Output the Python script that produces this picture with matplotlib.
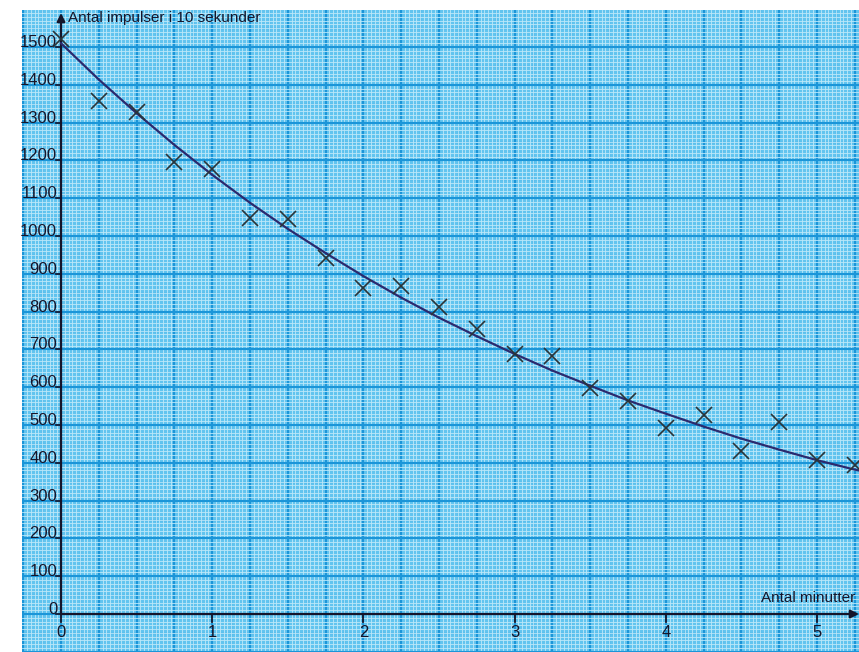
import matplotlib
matplotlib.use("Agg")
import matplotlib.pyplot as plt
import numpy as np
from matplotlib.ticker import MultipleLocator

# Data
minutes = [0, 0.25, 0.5, 0.75, 1.0, 1.25, 1.5, 1.75, 2.0, 2.25, 2.5, 2.75,
           3.0, 3.25, 3.5, 3.75, 4.0, 4.25, 4.5, 4.75, 5.0, 5.25]
counts = [1520, 1357, 1327, 1195, 1177, 1048, 1046, 942, 862, 868, 812, 755,
          688, 683, 598, 563, 492, 527, 431, 508, 407, 394]
curve_t = [0, 0.25, 0.5, 0.75, 1.0, 1.25, 1.5, 1.75, 2.0, 2.25, 2.5, 2.75,
           3.0, 3.25, 3.5, 3.75, 4.0, 4.25, 4.5, 4.75, 5.0, 5.25, 5.3]
curve_n = [1510, 1414, 1325, 1241, 1162, 1088, 1019, 955, 894, 837, 784, 735,
           688, 644, 604, 565, 530, 496, 464, 435, 407, 382, 378]
x_tick_labels = ["0", "1", "2", "3", "4", "5"]
y_tick_values = list(range(0, 1501, 100))
x_label = "Antal minutter"
y_label = "Antal impulser i 10 sekunder"

fam = ["DejaVu Sans Condensed", "Liberation Sans Narrow", "Liberation Sans",
       "DejaVu Sans"]

fig = plt.figure(figsize=(8.59, 6.52), dpi=100)
ax = fig.add_axes([22 / 859, 0, 837 / 859, 642 / 652])
ax.set_xlim(-0.258, 5.278)
ax.set_ylim(-100.5, 1598)
ax.set_facecolor("#62c4ef")
for s in ax.spines.values():
    s.set_visible(False)

ax.xaxis.set_major_locator(MultipleLocator(0.25))
ax.xaxis.set_minor_locator(MultipleLocator(0.025))
ax.yaxis.set_major_locator(MultipleLocator(100))
ax.yaxis.set_minor_locator(MultipleLocator(10))
ax.tick_params(which="both", length=0, labelbottom=False, labelleft=False)
ax.grid(which="minor", color="#bde8f9", lw=0.6, zorder=0)
ax.grid(which="major", color="#1b95d8", lw=1.5, zorder=1)
ax.set_axisbelow(True)
for v in np.arange(-0.125, 5.3, 0.25):
    ax.axvline(v, color="#3aaae2", lw=0.9, zorder=0.5)
for v in np.arange(-50, 1600, 100):
    ax.axhline(v, color="#3aaae2", lw=0.9, zorder=0.5)

# axes with arrows
ax.annotate("", xy=(5.278, 0), xytext=(0, 0),
            arrowprops=dict(arrowstyle="-|>", color="#15152a", lw=1.6,
                            mutation_scale=12, shrinkA=0, shrinkB=0), zorder=4)
ax.annotate("", xy=(0, 1590), xytext=(0, 0),
            arrowprops=dict(arrowstyle="-|>", color="#15152a", lw=1.6,
                            mutation_scale=12, shrinkA=0, shrinkB=0), zorder=4)

# ticks and labels
for i, lab in enumerate(x_tick_labels):
    xv = float(lab)
    ax.plot([xv, xv], [0, -22], color="#15152a", lw=1.3, zorder=4)
    ax.text(xv, -48, lab, ha="center", va="center", fontsize=12,
            family=fam, color="#15152a", zorder=5)
for yv in y_tick_values:
    ax.plot([-0.03, 0], [yv, yv], color="#15152a", lw=1.2, zorder=4)
    ax.text(-0.025, yv + 12, str(yv), ha="right", va="center", fontsize=12,
            family=fam, color="#15152a", zorder=5)
ax.text(0.045, 1578, y_label, ha="left", va="center", fontsize=11,
        family=fam, color="#15152a", zorder=5)
ax.text(5.25, 23, x_label, ha="right", va="bottom", fontsize=11,
        family=fam, color="#15152a", zorder=5)

ax.plot(curve_t, curve_n, color="#2b2a6e", lw=1.6, zorder=6, clip_on=True)
ax.plot(minutes, counts, linestyle="none", marker="x", ms=11, mew=1.2,
        color="#2a3438", zorder=7, clip_on=False)

fig.savefig("out.png", dpi=100)
